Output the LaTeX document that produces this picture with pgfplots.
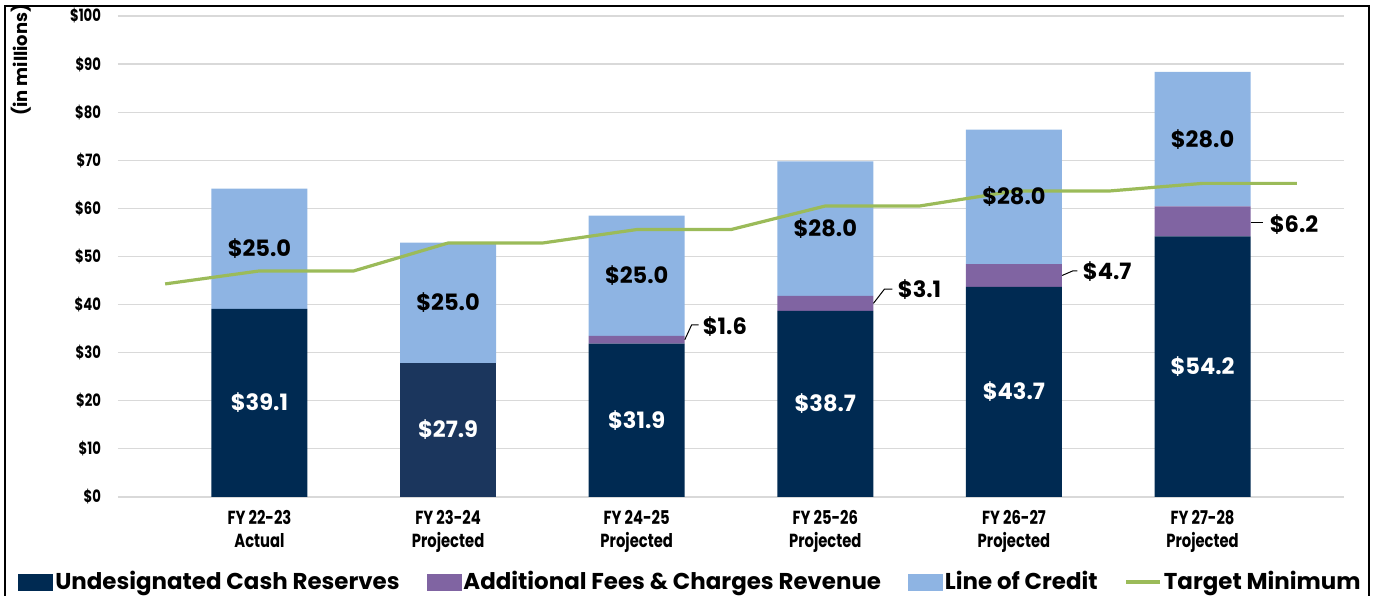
\documentclass[border=0pt]{standalone}
\usepackage{fontspec}
\setmainfont{Poppins}
\newfontfamily\condfont[FakeStretch=0.78]{Poppins}
\usepackage{pgfplots}
\pgfplotsset{compat=1.18}
\definecolor{navy}{HTML}{002A52}
\definecolor{navytwo}{HTML}{1B365D}
\definecolor{fees}{HTML}{8064A2}
\definecolor{loc}{HTML}{8EB4E3}
\definecolor{target}{HTML}{9BBB59}
\definecolor{gridc}{HTML}{D9D9D9}
\pgfplotstableread{
x cash cashb fees loc
0 39.1 0    0   25.0
1 0    27.9 0   25.0
2 31.9 0    1.6 25.0
3 38.7 0    3.1 28.0
4 43.7 0    4.7 28.0
5 54.2 0    6.2 28.0
}\bars
\pgfplotstableread{
x t
-0.5 44.3
0 47.0
0.5 47.0
1 52.8
1.5 52.8
2 55.6
2.5 55.6
3 60.5
3.5 60.5
4 63.6
4.5 63.6
5 65.2
5.5 65.2
}\target
\pgfplotsset{
  common/.style={
    scale only axis, width=613bp, height=240.5bp,
    xmin=-0.75, xmax=5.75, ymin=0, ymax=100,
    axis line style={draw=none}, major tick length=0pt,
  }
}
\begin{document}
\begin{tikzpicture}
\useasboundingbox (-59bp,-49.5bp) rectangle (628bp,248.5bp);
\begin{axis}[common,
  ybar stacked, bar width=48bp,
  ymajorgrids, grid style={gridc, line width=0.6bp},
  ytick={0,10,...,100},
  yticklabel={\$\pgfmathprintnumber{\tick}},
  yticklabel style={font=\condfont\bfseries\fontsize{8.5}{9}\selectfont, anchor=east, xshift=-5bp},
  /pgf/number format/assume math mode=true,
  xtick={0,...,5},
  xticklabels={{FY 22-23\\Actual},{FY 23-24\\Projected},{FY 24-25\\Projected},{FY 25-26\\Projected},{FY 26-27\\Projected},{FY 27-28\\Projected}},
  xticklabel style={font=\condfont\bfseries\fontsize{9.5}{11.5}\selectfont, align=center, anchor=north, yshift=-3bp},
]
\addplot[fill=navy, draw=none] table[x=x, y=cash] {\bars};
\addplot[fill=navytwo, draw=none] table[x=x, y=cashb] {\bars};
\addplot[fill=fees, draw=none] table[x=x, y=fees] {\bars};
\addplot[fill=loc, draw=none] table[x=x, y=loc] {\bars};
\end{axis}
\begin{axis}[common,
  xtick=\empty, ytick=\empty,
  legend columns=4,
  legend style={at={(-0.0815,-0.1767)}, anchor=west, draw=none, fill=none, inner sep=0pt,
    font=\bfseries\fontsize{11.5}{13}\selectfont,
    nodes={inner sep=1bp},
    /tikz/every odd column/.append style={column sep=0bp},
    /tikz/every even column/.append style={column sep=12.5bp}},
]
\addlegendimage{legend image code/.code={\fill[navy] (0bp,-4bp) rectangle (17bp,4bp);}}
\addlegendentry{Undesignated Cash Reserves}
\addlegendimage{legend image code/.code={\fill[fees] (0bp,-4bp) rectangle (17bp,4bp);}}
\addlegendentry{Additional Fees \& Charges Revenue}
\addlegendimage{legend image code/.code={\fill[loc] (0bp,-4bp) rectangle (17bp,4bp);}}
\addlegendentry{Line of Credit}
\addplot[target, line width=1.6bp, mark=none] table[x=x, y=t] {\target};
\addlegendentry{Target Minimum}
% labels
\begin{scope}[every node/.style={font=\bfseries\fontsize{11.3}{12}\selectfont}]
\node[white] at (axis cs:0,19.55) {\$39.1};
\node[white] at (axis cs:1,13.95) {\$27.9};
\node[white] at (axis cs:2,15.95) {\$31.9};
\node[white] at (axis cs:3,19.35) {\$38.7};
\node[white] at (axis cs:4,21.85) {\$43.7};
\node[white] at (axis cs:5,27.1) {\$54.2};
\node at (axis cs:0,51.6) {\$25.0};
\node at (axis cs:1,40.4) {\$25.0};
\node at (axis cs:2,46.0) {\$25.0};
\node at (axis cs:3,55.8) {\$28.0};
\node at (axis cs:4,62.4) {\$28.0};
\node at (axis cs:5,74.4) {\$28.0};
\node[anchor=west, inner sep=0pt] at (axis cs:2.349,35.34) {\$1.6};
\node[anchor=west, inner sep=0pt] at (axis cs:3.383,43.04) {\$3.1};
\node[anchor=west, inner sep=0pt] at (axis cs:4.364,46.78) {\$4.7};
\node[anchor=west, inner sep=0pt] at (axis cs:5.355,56.55) {\$6.2};
\end{scope}
\draw[black, line width=0.5bp] (axis cs:2.255,32.7) -- (axis cs:2.291,35.76) -- (axis cs:2.328,35.76);
\draw[black, line width=0.5bp] (axis cs:3.255,40.25) -- (axis cs:3.314,43.24) -- (axis cs:3.356,43.24);
\draw[black, line width=0.5bp] (axis cs:4.255,46.05) -- (axis cs:4.311,46.99) -- (axis cs:4.337,46.99);
\draw[black, line width=0.5bp] (axis cs:5.255,57.0) -- (axis cs:5.318,57.0);
\end{axis}
\node[rotate=90, font=\fontsize{9}{10}\selectfont\bfseries] at (-48.5bp,218.5bp) {(in millions)};
\draw[black, line width=1.1bp] (-56.5bp,-60bp) -- (-56.5bp,245.5bp) -- (625.5bp,245.5bp) -- (625.5bp,-60bp);
\end{tikzpicture}
\end{document}
